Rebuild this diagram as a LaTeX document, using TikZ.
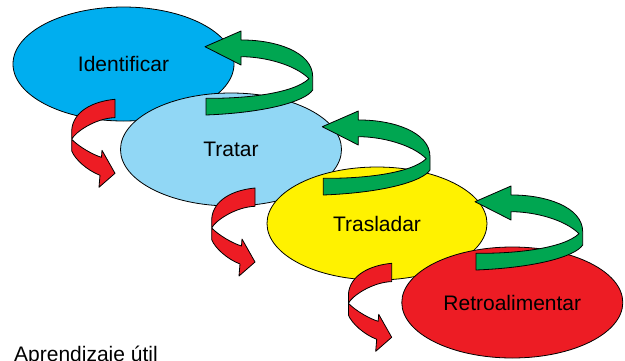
\documentclass[tikz,border=0pt]{standalone}
\usepackage{fontspec}
\setmainfont{Liberation Sans}
\usepackage{tikz}
\usetikzlibrary{shapes.geometric}

\definecolor{azulfuerte}{RGB}{0,174,239}
\definecolor{azulclaro}{RGB}{145,215,245}
\definecolor{amarillo}{RGB}{255,242,0}
\definecolor{rojo}{RGB}{237,28,36}
\definecolor{verde}{RGB}{0,166,81}

\begin{document}
\begin{tikzpicture}[x=1pt, y=-1pt,
		etapa/.style={ellipse, draw=black, line width=0.8pt, inner sep=0pt, minimum width=221pt, minimum height=113pt, font=\fontsize{21}{25}\selectfont},
		flecha/.style={draw=black, line width=0.8pt, line join=round},
		flecharoja/.pic={
			\path[flecha, fill=rojo] (0,0) .. controls (-22,2) and (-42,12) .. (-43.3,31)
				-- (-43.3,51.7) .. controls (-40,60) and (-28,71) .. (-15,76)
				-- (-16,88) -- (0,74) -- (-13,51) -- (-13.5,58)
				.. controls (-22,55.5) and (-36,47.5) .. (-43.3,40)
				.. controls (-40,33) and (-20,19) .. (0,18.3) -- cycle;
		},
		flechaverde/.pic={
			\path[flecha, fill=verde] (0,0) -- (36,-15.7) -- (36,-6.7)
				.. controls (70,-7) and (107.7,5) .. (107.7,30)
				-- (107.7,43.3) .. controls (100,55) and (60,66) .. (1,68.3)
				-- (1,51.6) .. controls (40,52) and (88,47) .. (104,32)
				.. controls (90,18) and (60,10) .. (36,10)
				-- (36,18.3) -- cycle;
		}]
		
		\useasboundingbox (0,0) rectangle (625,360);
		
		% Etapas
		\node[etapa, fill=azulfuerte, minimum height=114pt] (identificar) at (123.5,64) {Identificar};
		\node[etapa, fill=azulclaro] (tratar) at (231,149.5) {Tratar};
		\node[etapa, fill=amarillo, minimum width=220pt] (trasladar) at (377,223.5) {Trasladar};
		\node[etapa, fill=rojo, minimum height=111pt] (retroalimentar) at (512.3,302.5) {Retroalimentar};
		
		% Flechas rojas
		\pic at (115,99.3) {flecharoja};
		\pic at (255,188) {flecharoja};
		\pic at (391.7,263.3) {flecharoja};
		
		% Flechas verdes
		\pic at (205,46.7) {flechaverde};
		\pic at (322.3,126.7) {flechaverde};
		\pic at (475,201.7) {flechaverde};
		
		% Texto
		\node[anchor=base west, inner sep=0pt, font=\fontsize{21}{25}\selectfont] (aprendizaje) at (14,361.5) {Aprendizaje útil};
		
	\end{tikzpicture}
\end{document}
